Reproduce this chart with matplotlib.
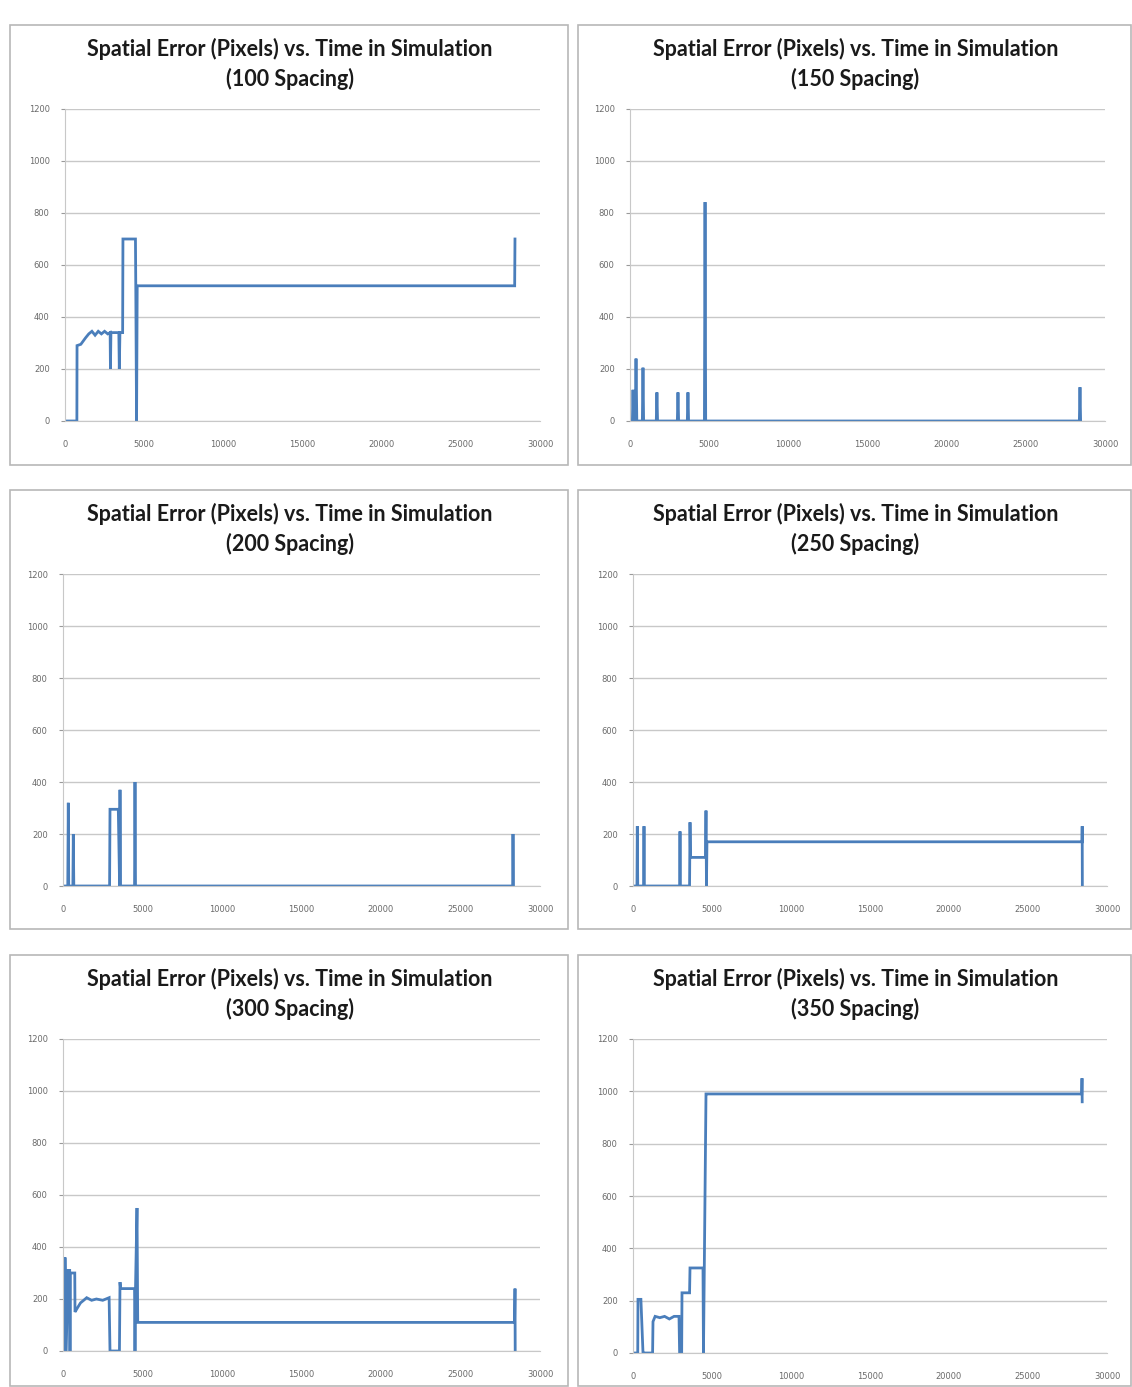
import matplotlib
matplotlib.use("Agg")
import matplotlib.pyplot as plt
from matplotlib.patches import Rectangle

# ---- data (time in simulation vs spatial error in pixels) ----
spacings = [100, 150, 200, 250, 300, 350]

time_100 = [0, 750, 760, 1000, 1300, 1500, 1700, 1900, 2100, 2300, 2500, 2700, 2850, 2870,
            2900, 3400, 3430, 3470, 3640, 3660, 4450, 4470, 4520, 4560, 28400, 28420]
err_100 = [0, 0, 290, 295, 320, 335, 345, 330, 345, 335, 345, 335, 340, 200,
           340, 340, 200, 340, 340, 700, 700, 520, 0, 520, 520, 700]

time_150 = [0, 150, 190, 230, 330, 380, 430, 780, 820, 860, 1660, 1700, 1740, 2990, 3030,
            3070, 3620, 3660, 3700, 4700, 4740, 4780, 28380, 28420, 28460]
err_150 = [0, 0, 120, 0, 0, 240, 0, 0, 205, 0, 0, 110, 0, 0, 110,
           0, 0, 110, 0, 0, 842, 0, 0, 130, 0]

time_200 = [0, 300, 333, 360, 620, 648, 680, 2930, 2956, 3478, 3560, 3585, 3620, 4500,
            4528, 4560, 28280, 28302, 28330]
err_200 = [0, 0, 320, 0, 0, 200, 0, 0, 295, 295, 0, 370, 0, 0,
           400, 0, 0, 200, 0]

time_250 = [0, 250, 272, 300, 670, 696, 720, 2950, 2975, 3000, 3580, 3608, 3640, 4590,
            4620, 4650, 4680, 28420, 28430, 28440]
err_250 = [0, 0, 230, 0, 0, 230, 0, 0, 210, 0, 0, 245, 110, 110,
           290, 0, 170, 170, 230, 0]

time_300 = [0, 100, 126, 200, 314, 420, 440, 460, 740, 755, 900, 1100, 1300, 1490, 1800,
            2100, 2500, 2900, 2956, 3550, 3585, 3620, 4500, 4528, 4560, 4654, 4700, 28400,
            28428, 28440]
err_300 = [0, 0, 360, 0, 310, 310, 0, 300, 300, 150, 165, 185, 195, 205, 195,
           200, 195, 205, 0, 0, 265, 240, 240, 0, 240, 550, 110, 110,
           240, 0]

time_350 = [0, 300, 316, 500, 633, 700, 1240, 1266, 1400, 1700, 2000, 2300, 2600, 2911,
            2950, 3080, 3101, 3580, 3608, 4430, 4460, 4620, 4660, 28400, 28418, 28430]
err_350 = [0, 0, 205, 205, 0, 0, 0, 120, 140, 135, 140, 130, 140, 140,
           0, 0, 230, 230, 325, 325, 0, 990, 990, 990, 1050, 960]

series = [(time_100, err_100), (time_150, err_150), (time_200, err_200),
          (time_250, err_250), (time_300, err_300), (time_350, err_350)]

y_ticks = [0, 200, 400, 600, 800, 1000, 1200]
x_ticks = [0, 5000, 10000, 15000, 20000, 25000, 30000]

W, H = 1132, 1387
LINE_COLOR = "#4a7ebb"

# pixel layout: (panel box x0, x1, y0, y1), (axes x0, x1, ytop, ybot)
boxes = [(10, 568, 25, 465), (578, 1131, 25, 465),
         (10, 568, 490, 929), (578, 1131, 490, 929),
         (10, 568, 955, 1386), (578, 1131, 955, 1386)]
axes_px = [(65, 540, 109, 421), (630, 1105, 109, 421),
           (63, 540, 574, 886), (633, 1107, 574, 886),
           (63, 540, 1039, 1351), (633, 1107, 1039, 1353)]


def frac(x0, x1, ytop, ybot):
    return [x0 / W, 1 - ybot / H, (x1 - x0) / W, (ybot - ytop) / H]


fig = plt.figure(figsize=(W / 100, H / 100), dpi=100)
fig.patch.set_facecolor("white")

for i, (spacing, (t, e)) in enumerate(zip(spacings, series)):
    bx0, bx1, by0, by1 = boxes[i]
    fig.add_artist(Rectangle((bx0 / W, 1 - by1 / H), (bx1 - bx0) / W, (by1 - by0) / H,
                             transform=fig.transFigure, fill=False,
                             edgecolor="#b8b8b8", linewidth=1.2))

    ax = fig.add_axes(frac(*axes_px[i]))
    ax.plot(t, e, color=LINE_COLOR, linewidth=2.0, solid_joinstyle="miter")
    ax.set_xlim(0, 30000)
    ax.set_ylim(0, 1200)
    ax.set_xticks(x_ticks)
    ax.set_yticks(y_ticks)
    ax.grid(axis="y", color="#c8c8c8", linewidth=1.0)
    ax.set_axisbelow(True)
    for side in ["top", "right"]:
        ax.spines[side].set_visible(False)
    ax.spines["left"].set_color("#c8c8c8")
    ax.spines["bottom"].set_color("#c8c8c8")
    ax.tick_params(axis="both", labelsize=6, colors="#9a9a9a", labelcolor="#6a6a6a",
                   length=3, width=0.8)
    ax.tick_params(axis="x", length=0, pad=14)
    ax.tick_params(axis="y", pad=8)

    cx = ((bx0 + bx1) / 2 + 1) / W
    ty = 1 - (by0 + 39) / H
    fig.text(cx, ty, "Spatial Error (Pixels) vs. Time in Simulation\n(%d Spacing)" % spacing,
             ha="center", va="center", fontsize=15.5, fontweight="bold",
             family="Lato", color="#1a1a1a", linespacing=1.4)

fig.savefig("out.png", dpi=100, facecolor="white")
